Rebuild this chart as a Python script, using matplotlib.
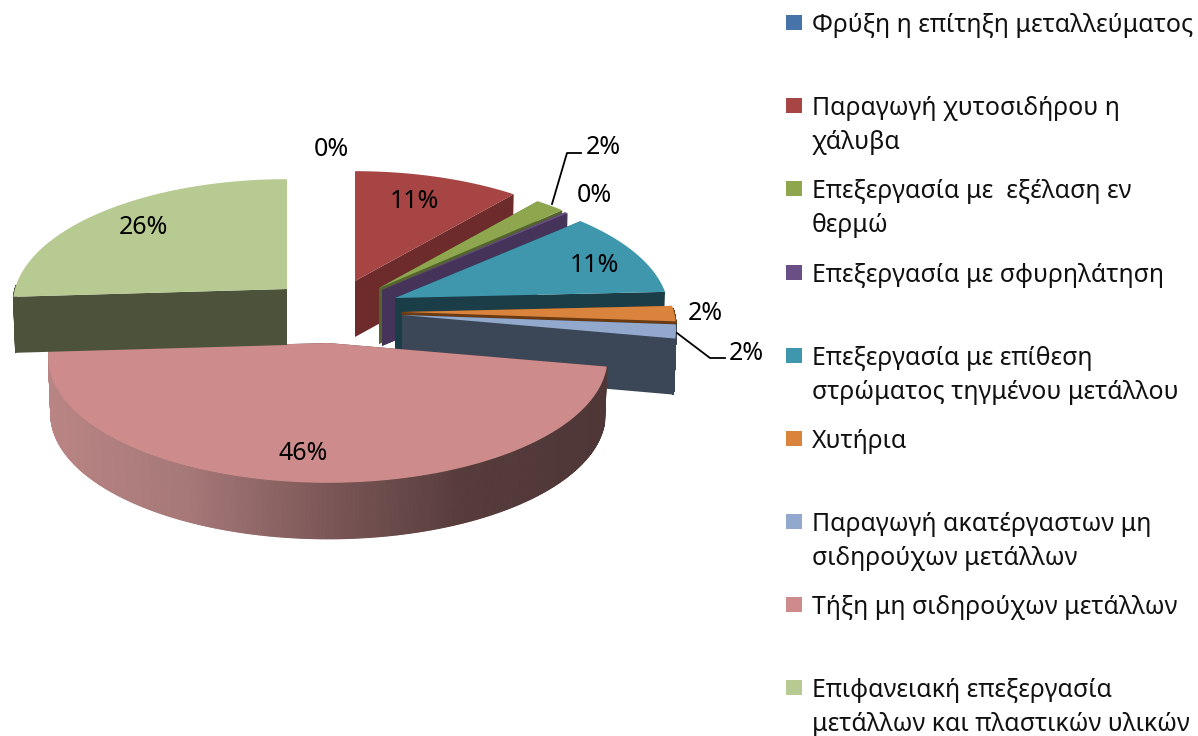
import numpy as np

import matplotlib
matplotlib.use('Agg')
import matplotlib.pyplot as plt
from matplotlib.collections import PolyCollection
from matplotlib.colors import LinearSegmentedColormap
from matplotlib.patches import Polygon, Rectangle

plt.rcParams['font.family'] = ['Noto Sans', 'DejaVu Sans']

values = [0, 11, 2, 0.2, 11, 2, 1.8, 46, 26]

legend_labels = [
    'Φρύξη η επίτηξη μεταλλεύματος',
    'Παραγωγή χυτοσιδήρου η\nχάλυβα',
    'Επεξεργασία με  εξέλαση εν\nθερμώ',
    'Επεξεργασία με σφυρηλάτηση',
    'Επεξεργασία με επίθεση\nστρώματος τηγμένου μετάλλου',
    'Χυτήρια',
    'Παραγωγή ακατέργαστων μη\nσιδηρούχων μετάλλων',
    'Τήξη μη σιδηρούχων μετάλλων',
    'Επιφανειακή επεξεργασία\nμετάλλων και πλαστικών υλικών',
]

top_colors = ['#4674a8', '#a64544', '#8ea74f', '#6a4f86', '#3f97ae',
              '#d9833c', '#92a8cd', '#cd8c8b', '#b7ca91']
side_colors = ['#2a4665', '#6e2b2b', '#55642f', '#46335a', '#1b3d48',
               '#6a3a12', '#3b4657', '#4f3737', '#4d523a']

# where the tip of each exploded slice sits, in pixels
apex_x = [355, 355, 379, 382, 395, 402, 402, 328, 287]
apex_y = [281, 281, 288, 290, 298, 312, 315, 343, 289]
x_scale = [1, 1, 1, 1, 1, 1, 1, 1.02, 1]

label_x = [331, 414, 603, 594, 594, 705, 746, 303, 143]
label_y = [150, 201, 148, 196, 266, 314, 353, 453, 228]

legend_y = [23, 106, 189, 273, 356, 439, 522, 605, 688]

RX, RY, PERSP = 272, 123, 0.12
DEPTH = 56

pink_wall = LinearSegmentedColormap.from_list(
    'wall', ['#b98484', '#a67878', '#7c5757', '#563b3b', '#4f3737'])


def project(i, theta):
    u, v = np.sin(theta), np.cos(theta)
    s = 1 / (1 + PERSP * v)
    return (apex_x[i] + RX * x_scale[i] * u * s,
            apex_y[i] - RY * v * s)


def lower(i, x, y):
    return apex_x[i] + (x - apex_x[i]) * 0.992, y + DEPTH


fig, ax = plt.subplots(figsize=(11.98, 7.36), dpi=100)
ax.set_position([0, 0, 1, 1])
ax.set_xlim(0, 1198)
ax.set_ylim(736, 0)
ax.axis('off')

edges = np.radians(np.concatenate([[0], np.cumsum(values)]) * 3.6)

for i in range(len(values)):
    if values[i] == 0:
        continue
    t = np.linspace(edges[i], edges[i + 1], 400)
    xs, ys = project(i, t)
    bx, by = lower(i, xs, ys)
    ax0, ay0 = apex_x[i], apex_y[i]

    # cut faces
    for k in (0, -1):
        ax.add_patch(Polygon([(ax0, ay0), (xs[k], ys[k]), (bx[k], by[k]), (ax0, ay0 + DEPTH)],
                             fc=side_colors[i], ec='none', zorder=i * 3 + 1))

    # rim, only the part facing the viewer, shaded along x for the big slice
    front = [j for j in range(len(t) - 1) if np.cos(t[j]) < 0.03]
    quads = [[(xs[j], ys[j]), (xs[j + 1], ys[j + 1]), (bx[j + 1], by[j + 1]), (bx[j], by[j])]
             for j in front]
    if values[i] == max(values):
        cols = pink_wall((xs[front] - xs.min()) / (xs.max() - xs.min()))[:, :3]
    else:
        cols = [side_colors[i]] * len(quads)
    if quads:
        ax.add_collection(PolyCollection(quads, facecolors=cols, edgecolors=cols,
                                         linewidths=0.8, zorder=i * 3 + 2))

    ax.add_patch(Polygon(np.column_stack([np.r_[ax0, xs], np.r_[ay0, ys]]),
                         fc=top_colors[i], ec='none', zorder=i * 3 + 3))

# leader lines
ax.plot([552, 567, 581], [204, 153, 153], color='black', lw=1.3, zorder=40)
ax.plot([677, 710, 725], [333, 358, 358], color='black', lw=1.3, zorder=40)

for v, x, y in zip(values, label_x, label_y):
    ax.text(x, y, f'{round(v)}%', fontsize=18, ha='center', va='center',
            color='black', zorder=50)

for lab, col, y in zip(legend_labels, top_colors, legend_y):
    ax.add_patch(Rectangle((786, y - 8), 16, 15, fc=col, ec='none'))
    ax.text(812, y - 10, lab, fontsize=17.9, ha='left', va='top', color='#111111',
            linespacing=1.46)

fig.savefig('out.png', dpi=100)
